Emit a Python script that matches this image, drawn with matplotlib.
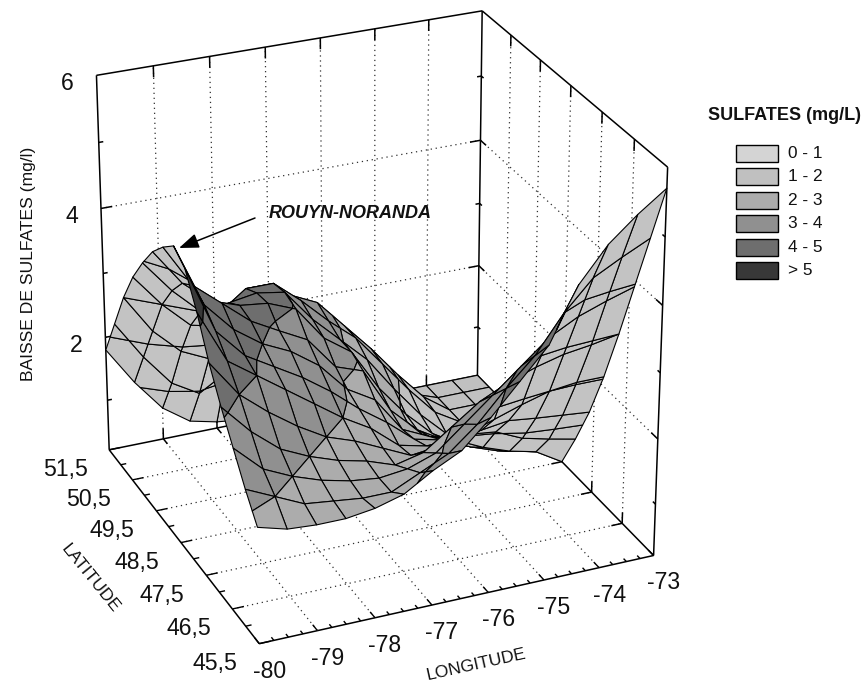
import numpy as np, matplotlib
matplotlib.use('Agg')
import matplotlib.pyplot as plt
from matplotlib.patches import Rectangle
from mpl_toolkits.mplot3d import proj3d
from mpl_toolkits.mplot3d.art3d import Poly3DCollection

plt.rcParams['font.family'] = ['Liberation Sans', 'DejaVu Sans']

longitudes = [-80, -79.5, -79, -78.5, -78, -77.5, -77, -76.5, -76, -75.5, -75, -74.5, -74, -73.5, -73]
latitudes = [45.5 + 6 * k / 14 for k in range(15)]
z_rows_by_lon = [
    [1.95,2.3,2.7,3.1,3.55,4.1,4.55,4.7,4.5,4.25,3.9,3.5,3.0,2.4,1.8],
    [1.83,2.1,2.3,2.65,3.0,3.3,3.55,3.75,3.85,3.7,3.4,3.0,2.4,1.8,1.2],
    [1.8,1.9,2.1,2.3,2.65,3.0,3.1,3.3,3.5,3.35,3.0,2.6,2.0,1.3,0.7],
    [1.8,1.85,1.95,2.1,2.35,2.7,2.85,3.0,3.15,3.2,3.05,2.5,1.8,1.05,.4],
    [1.86,1.8,1.85,1.95,2.1,2.4,2.6,2.8,2.92,3.15,3.12,3.0,2.2,1.3,.3],
    [1.98,1.8,1.8,1.85,1.95,2.1,2.3,2.5,2.7,2.98,3.05,3.0,2.6,1.6,.25],
    [2.24,2.0,1.85,1.7,1.75,1.85,1.95,2.05,2.2,2.45,2.55,2.65,2.55,1.8,.2],
    [2.45,2.2,2.0,1.8,1.55,1.5,1.65,1.8,2.05,2.15,2.15,2.25,2.35,1.9,.2],
    [2.85,2.55,2.35,2.1,1.6,1.4,1.3,1.25,1.35,1.5,1.75,1.9,1.9,1.5,.2],
    [3.3,3.0,2.7,2.4,1.7,1.42,1.2,1.05,.95,1.0,1.2,1.4,1.45,1.1,.2],
    [3.75,3.4,3.05,2.6,1.84,1.47,1.2,.9,.7,.6,.7,.9,.95,.7,.2],
    [4.55,3.95,3.4,2.75,1.98,1.53,1.15,.7,.5,.35,.3,.45,.5,.35,.2],
    [5.05,4.38,3.62,2.86,2.1,1.48,.96,.55,.35,.25,.2,.2,.2,.2,.2],
    [5.4,4.6,3.77,2.92,2.15,1.44,.86,.45,.25,.2,.2,.2,.2,.2,.2],
    [5.7,4.8,3.9,3.0,2.15,1.4,.77,.2,.2,.2,.2,.2,.2,.2,.2],
]
legend_labels = ['0 - 1', '1 - 2', '2 - 3', '3 - 4', '4 - 5', '> 5']
legend_greys = ['#d4d4d4', '#c0c0c0', '#acacac', '#909090', '#6e6e6e', '#383838']
band_edges = [1.1, 2.1, 3.0, 3.95]
band_colors = ['#c0c0c0', '#acacac', '#909090', '#6e6e6e', '#383838']
underside_color = '#c3c3c3'
x_ticks = [-80, -79, -78, -77, -76, -75, -74, -73]
y_ticks = [45.5, 46.5, 47.5, 48.5, 49.5, 50.5, 51.5]
y_labels = ['45,5', '46,5', '47,5', '48,5', '49,5', '50,5', '51,5']
z_ticks = [2, 4, 6]

X0, X1, Y0, Y1, Z0, Z1 = -80, -73, 45.5, 51.5, 0.2, 6

fig = plt.figure(figsize=(8.66, 6.84), dpi=100)
FW, FH = 866, 684
ax = fig.add_axes([0.1, 0.1, 0.5, 0.5 * FW / FH], projection='3d')
ax.set_xlim(X0, X1); ax.set_ylim(Y0, Y1); ax.set_zlim(Z0, Z1)
ax.set_box_aspect((1.0055, 1, 1.0112), zoom=1)
ax.set_proj_type('persp', focal_length=1.041)
ax.view_init(26.8185, -113.334)
ax.set_axis_off()
ax.computed_zorder = False
ax.patch.set_visible(False)

# place the axes so that the projection lands on the reference's pixels
S, OX, OY = 3859.43, 374.91, FH - 315.31
ax.apply_aspect()
o = ax.transData.transform((0, 0)); e = ax.transData.transform((1, 1))
p = ax.get_position(); lp, bp, wp = p.x0 * FW, p.y0 * FH, p.width * FW
fx, fy = (o[0] - lp) / wp, (o[1] - bp) / wp
k = (e[0] - o[0]) / wp
wn = S / k
ax.set_position([(OX - fx * wn) / FW, (OY - fy * wn) / FH, wn / FW, wn / FH])
ax.apply_aspect()
M = ax.get_proj()


def to_px(x, y, z):
    u, v, _ = proj3d.proj_transform(np.atleast_1d(x), np.atleast_1d(y), np.atleast_1d(z), M)
    return ax.transData.transform(np.column_stack([u, v]))


def clip(poly, level, above):
    out = []
    n = len(poly)
    for a in range(n):
        P, Q = poly[a], poly[(a + 1) % n]
        pin = (P[2] >= level) if above else (P[2] <= level)
        qin = (Q[2] >= level) if above else (Q[2] <= level)
        if pin:
            out.append(P)
        if pin != qin:
            t = (level - P[2]) / (Q[2] - P[2])
            out.append(tuple(P[c] + t * (Q[c] - P[c]) for c in range(3)))
    return out


def signed_area(poly):
    a = np.array(poly)
    q = to_px(a[:, 0], a[:, 1], a[:, 2])
    return 0.5 * np.sum(q[:, 0] * np.roll(q[:, 1], -1) - np.roll(q[:, 0], -1) * q[:, 1])


Z = np.array(z_rows_by_lon)
floor_sign = np.sign(signed_area([(X0, Y0, Z0), (X1, Y0, Z0), (X1, Y1, Z0), (X0, Y1, Z0)]))
polys, cols = [], []
edges = [-np.inf] + band_edges + [np.inf]
for i in range(len(longitudes) - 1):
    for j in range(len(latitudes) - 1):
        cell = [(longitudes[i], latitudes[j], Z[i, j]),
                (longitudes[i + 1], latitudes[j], Z[i + 1, j]),
                (longitudes[i + 1], latitudes[j + 1], Z[i + 1, j + 1]),
                (longitudes[i], latitudes[j + 1], Z[i, j + 1])]
        for b in range(len(band_colors)):
            piece = cell
            if np.isfinite(edges[b]):
                piece = clip(piece, edges[b], True)
            if len(piece) >= 3 and np.isfinite(edges[b + 1]):
                piece = clip(piece, edges[b + 1], False)
            if len(piece) < 3:
                continue
            top = np.sign(signed_area(piece)) == floor_sign
            polys.append(piece)
            cols.append(band_colors[b] if top else underside_color)
surf = Poly3DCollection(polys, facecolors=cols, edgecolors='black', linewidths=0.8, zsort='average', zorder=3)
ax.add_collection3d(surf, autolim=False)


def seg(a, b, **kw):
    style = dict(color='black', lw=1.1, zorder=1, solid_capstyle='butt')
    style.update(kw)
    ax.plot([a[0], b[0]], [a[1], b[1]], [a[2], b[2]], **style)


def dot(a, b):
    ax.plot([a[0], b[0]], [a[1], b[1]], [a[2], b[2]], color='#303030', lw=0.9,
            ls=(0, (1, 3)), zorder=1)


# box
for a, b in [((X0, Y1, Z0), (X0, Y0, Z0)), ((X0, Y0, Z0), (X1, Y0, Z0)), ((X1, Y0, Z0), (X1, Y1, Z0)),
             ((X1, Y1, Z0), (X0, Y1, Z0)), ((X0, Y1, Z0), (X0, Y1, Z1)), ((X1, Y1, Z0), (X1, Y1, Z1)),
             ((X1, Y0, Z0), (X1, Y0, Z1)), ((X0, Y1, Z1), (X1, Y1, Z1)), ((X1, Y1, Z1), (X1, Y0, Z1))]:
    seg(a, b)

# grids
for x in x_ticks[1:-1]:
    dot((x, Y0, Z0), (x, Y1, Z0)); dot((x, Y1, Z0), (x, Y1, Z1))
for y in y_ticks[1:-1]:
    dot((X0, y, Z0), (X1, y, Z0)); dot((X1, y, Z0), (X1, y, Z1))
for z in z_ticks[:-1]:
    dot((X0, Y1, z), (X1, Y1, z)); dot((X1, Y1, z), (X1, Y0, z))

# ticks
for x in np.arange(-80, -72.9, 0.25):
    major = float(x).is_integer()
    seg((x, Y0, Z0), (x, Y0 + (0.17 if major else 0.09), Z0), lw=1.0)
for y in np.arange(45.5, 51.6, 0.5):
    major = (y - 45.5) % 1 == 0
    seg((X0, y, Z0), (X0 + (0.2 if major else 0.1), y, Z0), lw=1.0)
for x in x_ticks[1:-1]:
    seg((x, Y1, Z1), (x, Y1, Z1 - 0.17)); seg((x, Y1, Z0), (x, Y1, Z0 + 0.17)); seg((x, Y1, Z0), (x, Y1 - 0.17, Z0))
for y in y_ticks[1:-1]:
    seg((X1, y, Z1), (X1, y, Z1 - 0.17)); seg((X1, y, Z0), (X1, y, Z0 + 0.17)); seg((X1, y, Z0), (X1 - 0.2, y, Z0))
for z in [1, 2, 3, 4, 5]:
    ln = 0.2 if z % 2 == 0 else 0.08
    seg((X0, Y1, z), (X0 + ln, Y1, z)); seg((X1, Y0, z), (X1, Y0 + ln, z))
    seg((X1, Y1, z), (X1 - ln, Y1, z)); seg((X1, Y1, z), (X1, Y1 - ln, z))

# labels
def label(px, py, s, **kw):
    kw.setdefault('fontsize', 16.6)
    fig.text(px / FW, py / FH, s, ha='center', va='center', color='#111111', **kw)


for y, s in zip(y_ticks, y_labels):
    q = to_px(X0, y, Z0)[0]
    label(q[0] - 44, q[1] - 20, s)
for x in x_ticks:
    q = to_px(x, Y0, Z0)[0]
    label(q[0] + 10, q[1] - 27.5, str(x))
for z in z_ticks:
    q = to_px(X0, Y1, z)[0]
    label(q[0] - 29.5, q[1] - 8, str(z))

label(29, FH - 264, 'BAISSE DE SULFATES (mg/l)', rotation=90, fontsize=12.6)
label(90.5, FH - 578.5, 'LATITUDE', rotation=-51, fontsize=12.6)
label(476, FH - 665, 'LONGITUDE', rotation=12.5, fontsize=12.6)
label(350, FH - 213, 'ROUYN-NORANDA', fontsize=13, fontweight='bold', fontstyle='italic')
ax.annotate('', xy=(179, FH - 248), xytext=(255, FH - 218), xycoords='figure pixels', textcoords='figure pixels',
            arrowprops=dict(arrowstyle='-|>,head_length=0.75,head_width=0.28', color='black', lw=1.1,
                            mutation_scale=16, shrinkA=0, shrinkB=0), zorder=5)

# legend
label(785, FH - 116, 'SULFATES (mg/L)', fontsize=13, fontweight='bold')
for n, (s, c) in enumerate(zip(legend_labels, legend_greys)):
    top = 145 + 23.4 * n
    fig.add_artist(Rectangle((736 / FW, 1 - (top + 17) / FH), 42 / FW, 17 / FH, transform=fig.transFigure,
                             facecolor=c, edgecolor='black', lw=1.0))
    fig.text(788 / FW, 1 - (top + 8.5) / FH, s, ha='left', va='center', fontsize=12.4, color='#111111')

fig.savefig('out.png', dpi=100)
